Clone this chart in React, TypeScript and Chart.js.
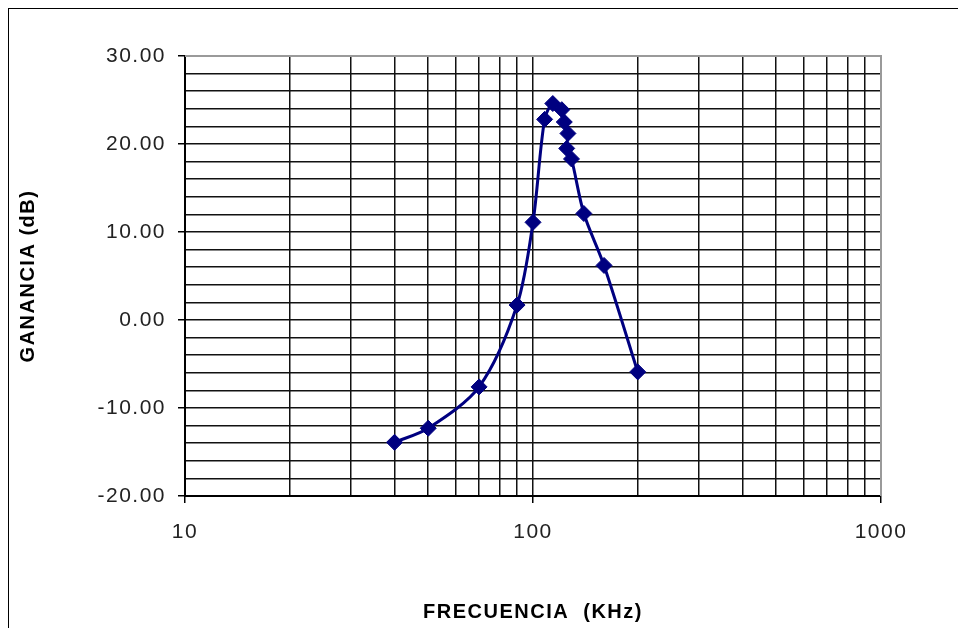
import React, { useEffect, useRef } from "react";
import { Chart, registerables } from "chart.js";

Chart.register(...registerables);

// Measured data: frequency (kHz) and gain (dB)
const freqKHz = [40, 50, 70, 90, 100, 108, 114, 121, 123, 126, 125, 129, 140, 160, 200];
const gainDb = [-13.9, -12.3, -7.6, 1.7, 11.1, 22.8, 24.6, 23.9, 22.5, 21.2, 19.5, 18.3, 12.1, 6.2, -5.9];

// Axis grid / tick values and labels
const xGridValues = [10, 20, 30, 40, 50, 60, 70, 80, 90, 100, 200, 300, 400, 500, 600, 700, 800, 900, 1000];
const xLabelValues = [10, 100, 1000];
const xLabelTexts = ["10", "100", "1000"];
const yGridValues = [-20, -18, -16, -14, -12, -10, -8, -6, -4, -2, 0, 2, 4, 6, 8, 10, 12, 14, 16, 18, 20, 22, 24, 26, 28, 30];
const yLabelValues = [-20, -10, 0, 10, 20, 30];
const yLabelTexts = ["-20.00", "-10.00", "0.00", "10.00", "20.00", "30.00"];

const xTitle = "FRECUENCIA  (KHz)";
const yTitle = "GANANCIA (dB)";

const FONT = "'Liberation Sans', Arial, sans-serif";
const SPACING = "1.5px";

const framePlugin = {
  id: "frame",
  beforeLayout(chart: any) {
    chart.ctx.letterSpacing = SPACING;
  },
  beforeDraw(chart: any) {
    chart.ctx.letterSpacing = SPACING;
  },
  beforeDatasetsDraw(chart: any) {
    const { ctx, chartArea: a } = chart;
    ctx.save();
    ctx.strokeStyle = "#9a9a9a";
    ctx.lineWidth = 2;
    ctx.beginPath();
    ctx.moveTo(a.left, a.top);
    ctx.lineTo(a.right, a.top);
    ctx.lineTo(a.right, a.bottom);
    ctx.stroke();
    ctx.restore();
  },
};

export default function App() {
  const canvasRef = useRef<HTMLCanvasElement | null>(null);

  useEffect(() => {
    if (!canvasRef.current) return;
    const chart = new Chart(canvasRef.current, {
      type: "line",
      data: {
        datasets: [
          {
            data: freqKHz.map((f, i) => ({ x: f, y: gainDb[i] })),
            borderColor: "#000080",
            backgroundColor: "#000080",
            borderWidth: 3,
            tension: 0.3,
            pointStyle: "rectRot",
            pointRadius: 8,
            pointBorderWidth: 1,
            pointBackgroundColor: "#000080",
            pointBorderColor: "#000080",
          },
        ],
      },
      options: {
        animation: false,
        responsive: true,
        maintainAspectRatio: false,
        layout: { padding: { top: 47, right: 85, left: 0, bottom: 0 } },
        plugins: { legend: { display: false }, tooltip: { enabled: false } },
        scales: {
          x: {
            type: "logarithmic",
            min: 10,
            max: 1000,
            afterBuildTicks: (s: any) => {
              s.ticks = xGridValues.map((v) => ({ value: v }));
            },
            afterFit: (s: any) => {
              s.height = 132;
            },
            ticks: {
              autoSkip: false,
              maxRotation: 0,
              padding: 17,
              color: "#222",
              font: { family: FONT, size: 21 },
              callback: (v: any) => {
                const i = xLabelValues.indexOf(Number(v));
                return i >= 0 ? xLabelTexts[i] : "";
              },
            },
            grid: {
              color: "#111",
              lineWidth: 1.5,
              tickLength: 7,
              tickColor: (c: any) =>
                c.tick && xLabelValues.indexOf(c.tick.value) >= 0 ? "#000" : "rgba(0,0,0,0)",
            },
            border: { color: "#000", width: 2 },
            title: {
              display: true,
              text: xTitle,
              color: "#000",
              font: { family: FONT, size: 20, weight: "bold" },
              padding: { top: 0, bottom: 4 },
            },
          },
          y: {
            type: "linear",
            min: -20,
            max: 30,
            afterBuildTicks: (s: any) => {
              s.ticks = yGridValues.map((v) => ({ value: v }));
            },
            afterFit: (s: any) => {
              s.width = 176;
            },
            ticks: {
              autoSkip: false,
              padding: 12,
              color: "#222",
              font: { family: FONT, size: 21 },
              callback: (v: any) => {
                const i = yLabelValues.indexOf(Number(v));
                return i >= 0 ? yLabelTexts[i] : "";
              },
            },
            grid: {
              color: "#111",
              lineWidth: 1.5,
              tickLength: 7,
              tickColor: (c: any) =>
                c.tick && yLabelValues.indexOf(c.tick.value) >= 0 ? "#000" : "rgba(0,0,0,0)",
            },
            border: { color: "#000", width: 2 },
            title: {
              display: true,
              text: yTitle,
              color: "#000",
              font: { family: FONT, size: 20, weight: "bold" },
              padding: { top: 7, bottom: 0 },
            },
          },
        },
      },
      plugins: [framePlugin],
    } as any);
    return () => chart.destroy();
  }, []);

  return (
    <div
      style={{
        boxSizing: "border-box",
        width: 958,
        height: 620,
        borderTop: "1px solid #000",
        borderLeft: "1px solid #000",
        position: "relative",
      }}
    >
      <div style={{ position: "relative", width: "100%", height: "100%" }}>
        <canvas ref={canvasRef} />
      </div>
    </div>
  );
}
